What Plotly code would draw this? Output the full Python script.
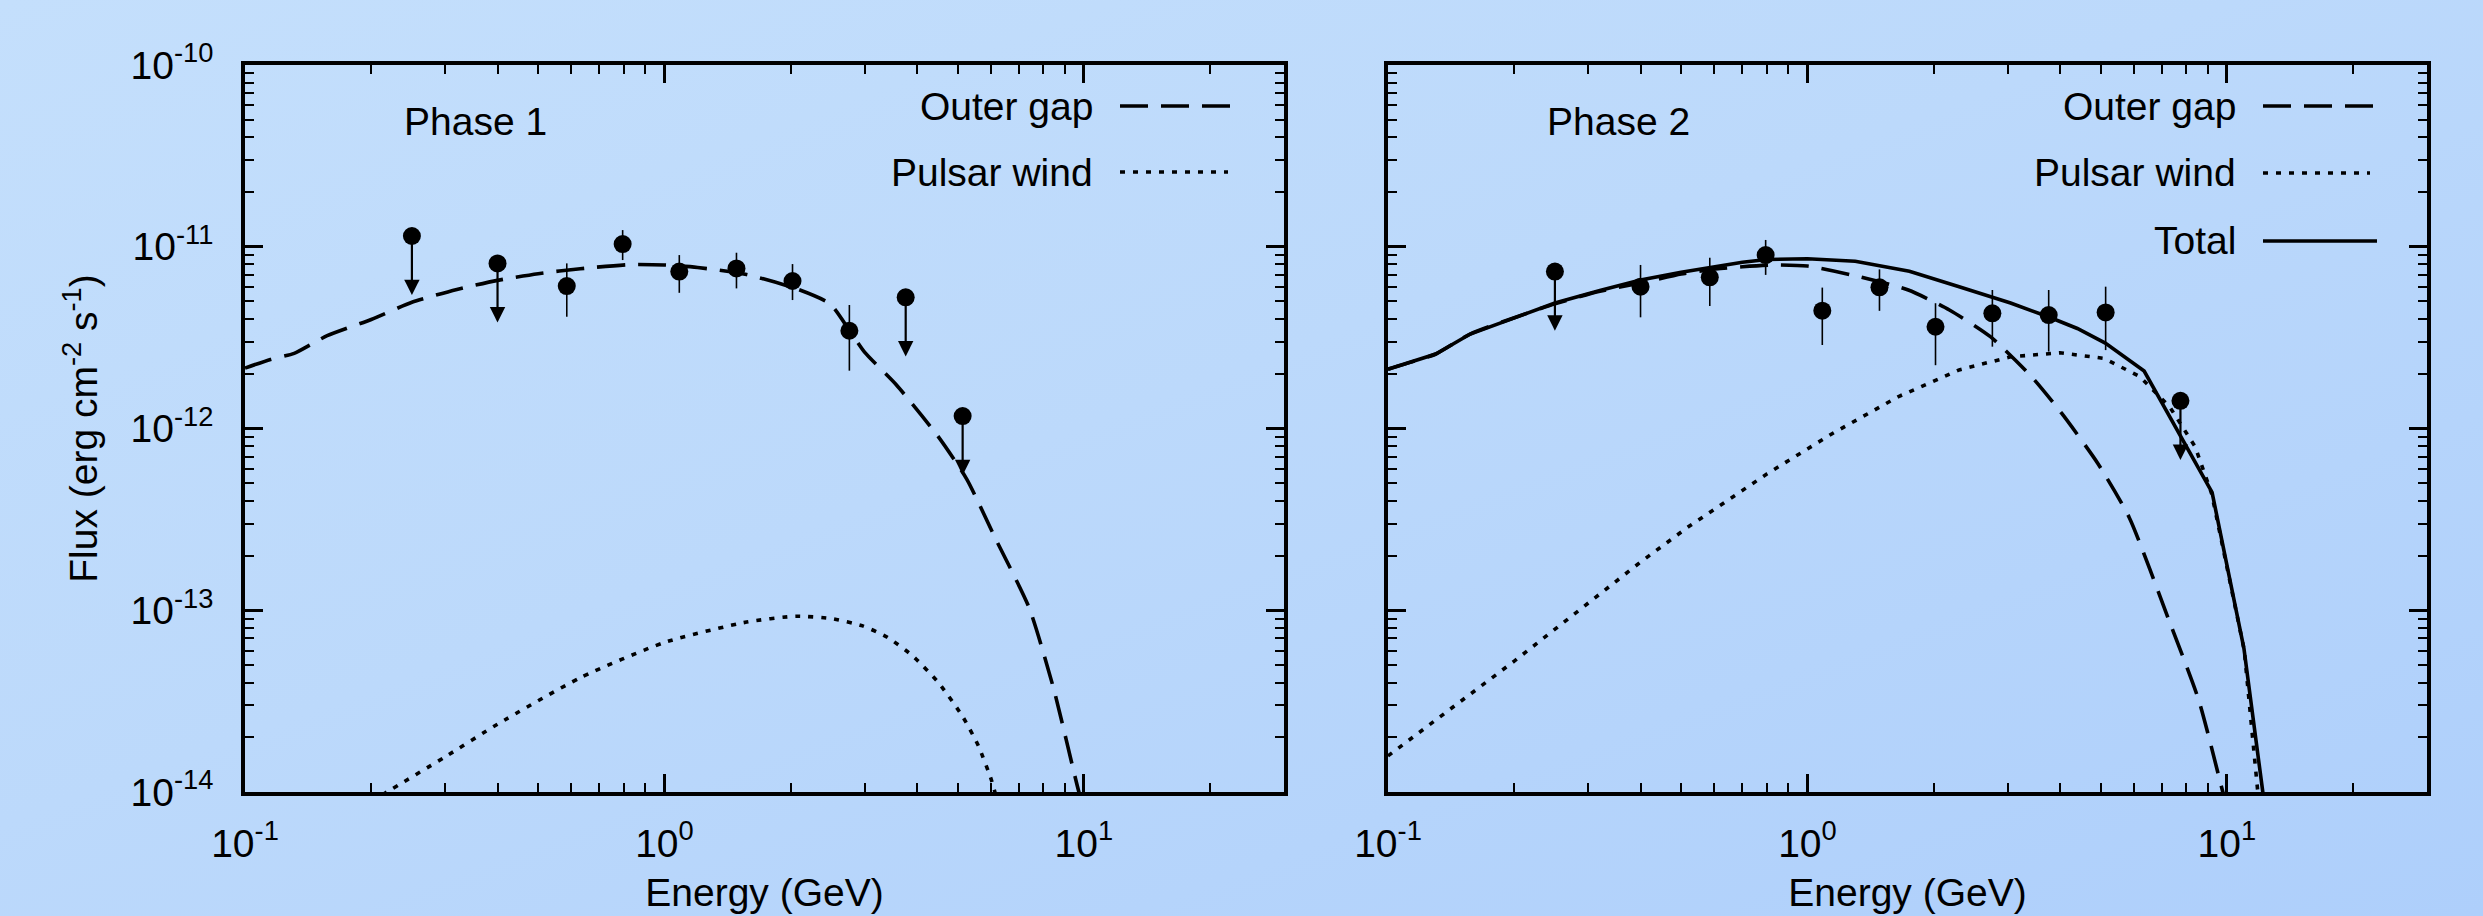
import base64
import math
import plotly.graph_objects as go

W, H = 2483, 916

# ---------------- data ----------------
# Phase 1 observed points (GeV, erg cm^-2 s^-1)
p1_energy = [0.25, 0.40, 0.585, 0.795, 1.085, 1.485, 2.02, 2.76, 3.76, 5.14]
p1_flux = [1.146e-11, 8.1e-12, 6.08e-12, 1.035e-11, 7.3e-12, 7.6e-12, 6.48e-12, 3.45e-12, 5.27e-12, 1.17e-12]
p1_flux_hi = [None, None, 8.1e-12, 1.235e-11, 9.0e-12, 9.27e-12, 8.03e-12, 4.78e-12, None, None]
p1_flux_lo = [None, None, 4.12e-12, 8.45e-12, 5.58e-12, 5.9e-12, 5.09e-12, 2.08e-12, None, None]
p1_upper = [True, True, False, False, False, False, False, False, True, True]

# Phase 2 observed points
p2_energy = [0.25, 0.40, 0.585, 0.795, 1.085, 1.485, 2.02, 2.76, 3.76, 5.14, 7.75]
p2_flux = [7.3e-12, 6.03e-12, 6.79e-12, 9.0e-12, 4.45e-12, 5.98e-12, 3.63e-12, 4.3e-12, 4.21e-12, 4.35e-12, 1.42e-12]
p2_flux_hi = [None, 7.94e-12, 8.7e-12, 1.09e-11, 5.96e-12, 7.51e-12, 4.89e-12, 5.78e-12, 5.78e-12, 6.03e-12, None]
p2_flux_lo = [None, 4.09e-12, 4.72e-12, 7.0e-12, 2.88e-12, 4.44e-12, 2.23e-12, 2.82e-12, 2.65e-12, 2.7e-12, None]
p2_upper = [True, False, False, False, False, False, False, False, False, False, True]

# Phase 1 models
p1_og_energy = [0.1, 0.115, 0.131, 0.157, 0.2, 0.25, 0.32, 0.4, 0.5, 0.63, 0.83, 1.0, 1.2, 1.57,
                2.07, 2.48, 2.76, 3.0, 3.57, 4.48, 5.26, 6.17, 7.4, 8.48, 9.73, 10.2]
p1_og_flux = [2.15e-12, 2.40e-12, 2.59e-12, 3.24e-12, 3.98e-12, 4.95e-12, 5.82e-12, 6.53e-12, 7.11e-12,
              7.57e-12, 7.98e-12, 7.94e-12, 7.69e-12, 7.03e-12, 5.86e-12, 4.86e-12, 3.47e-12, 2.63e-12,
              1.74e-12, 9.12e-13, 5.25e-13, 2.45e-13, 1.035e-13, 3.67e-14, 1.0e-14, 7.0e-15]
p1_pw_energy = [0.2, 0.218, 0.3, 0.4, 0.632, 1.0, 1.57, 2.06, 2.5, 2.97, 3.4, 3.91, 4.5, 5.14, 5.6, 6.03, 6.3]
p1_pw_flux = [8.85e-15, 1.0e-14, 1.56e-14, 2.36e-14, 4.27e-14, 6.65e-14, 8.61e-14, 9.27e-14, 9.0e-14,
              8.2e-14, 7.1e-14, 5.6e-14, 4.0e-14, 2.6e-14, 1.8e-14, 1.15e-14, 7.9e-15]

# Phase 2 models
p2_og_energy = [0.1, 0.115, 0.13, 0.157, 0.2, 0.25, 0.32, 0.4, 0.5, 0.58, 0.7, 0.83, 1.0, 1.3, 1.74,
                2.18, 2.73, 3.42, 4.04, 4.92, 5.85, 7.26, 8.58, 9.78, 10.2]
p2_og_flux = [2.12e-12, 2.34e-12, 2.57e-12, 3.31e-12, 4.07e-12, 4.85e-12, 5.69e-12, 6.31e-12, 7.08e-12,
              7.46e-12, 7.76e-12, 7.94e-12, 7.83e-12, 6.92e-12, 5.78e-12, 4.49e-12, 3.20e-12, 1.93e-12,
              1.21e-12, 6.44e-13, 3.24e-13, 8.93e-14, 3.17e-14, 1.0e-14, 7.0e-15]
p2_pw_energy = [0.1, 0.2, 0.4, 0.52, 0.8, 1.15, 1.65, 2.3, 3.05, 4.0, 5.1, 6.2, 7.3, 8.4, 9.2, 11.0, 11.85, 12.1]
p2_pw_flux = [1.58e-14, 5.25e-14, 1.84e-13, 2.88e-13, 5.62e-13, 9.42e-13, 1.50e-12, 2.10e-12, 2.48e-12,
              2.61e-12, 2.43e-12, 1.93e-12, 1.32e-12, 7.94e-13, 4.37e-13, 6.03e-14, 1.0e-14, 6.3e-15]
p2_tot_energy = [0.1, 0.115, 0.13, 0.157, 0.2, 0.25, 0.32, 0.4, 0.5, 0.585, 0.7, 0.8, 1.0, 1.3, 1.75,
                 2.3, 3.05, 3.75, 4.4, 5.13, 6.35, 9.22, 10.98, 12.18, 12.4]
p2_tot_flux = [2.12e-12, 2.34e-12, 2.57e-12, 3.31e-12, 4.07e-12, 4.9e-12, 5.75e-12, 6.56e-12, 7.24e-12,
               7.7e-12, 8.22e-12, 8.51e-12, 8.59e-12, 8.32e-12, 7.33e-12, 6.03e-12, 4.9e-12, 4.12e-12,
               3.55e-12, 2.95e-12, 2.07e-12, 4.45e-13, 6.17e-14, 1.0e-14, 6.0e-15]

x_range = [0.1, 30]
y_range = [1e-14, 1e-10]
x_major = [0.1, 1, 10]
x_major_text = ["10<sup>-1</sup>", "10<sup>0</sup>", "10<sup>1</sup>"]
y_major = [1e-14, 1e-13, 1e-12, 1e-11, 1e-10]
y_major_text = ["10<sup>-14</sup>", "10<sup>-13</sup>", "10<sup>-12</sup>", "10<sup>-11</sup>", "10<sup>-10</sup>"]
panel_labels = ["Phase 1", "Phase 2"]
legend_names = ["Outer gap", "Pulsar wind", "Total"]

# ---------------- style ----------------
FONT = "Liberation Sans, Arial, Helvetica, sans-serif"
FS = 39
DASH = "28px,13px"
DOT = "5px,8px"
UL_DEX = 0.325  # length of upper-limit arrows in decades

fig = go.Figure()


def minor_vals(lo_exp, hi_exp, top):
    vals = []
    for e in range(lo_exp, hi_exp + 1):
        for m in range(2, 10):
            v = m * 10 ** e
            if v < top * 1.0001:
                vals.append(v)
    return vals


x_minor = minor_vals(-1, 1, x_range[1])
y_minor = minor_vals(-14, -11, y_range[1])


def add_panel(xa, ya, energy, flux, hi, lo, upper, curves):
    for (ce, cf, dash, shape) in curves:
        fig.add_trace(go.Scatter(x=ce, y=cf, mode="lines", xaxis=xa, yaxis=ya,
                                 line=dict(color="black", width=3.6, dash=dash, shape=shape,
                                           smoothing=0.6 if shape == "spline" else None),
                                 showlegend=False, hoverinfo="skip"))
    plus = [(h - f) if h is not None else 0 for h, f in zip(hi, flux)]
    minus = [(f - l) if l is not None else 0 for l, f in zip(lo, flux)]
    fig.add_trace(go.Scatter(x=energy, y=flux, mode="markers", xaxis=xa, yaxis=ya,
                             marker=dict(color="black", size=18),
                             error_y=dict(type="data", symmetric=False, array=plus, arrayminus=minus,
                                          color="black", thickness=1.6, width=0),
                             showlegend=False))
    xr = "x" if xa == "x" else "x2"
    yr = "y" if ya == "y" else "y2"
    for e, f, u in zip(energy, flux, upper):
        if u:
            fig.add_annotation(x=math.log10(e), y=math.log10(f) - UL_DEX,
                               ax=math.log10(e), ay=math.log10(f),
                               xref=xr, yref=yr, axref=xr, ayref=yr, text="",
                               showarrow=True, arrowhead=2, arrowsize=1.4, arrowwidth=2.2,
                               arrowcolor="black")


add_panel("x", "y", p1_energy, p1_flux, p1_flux_hi, p1_flux_lo, p1_upper,
          [(p1_og_energy, p1_og_flux, DASH, "spline"), (p1_pw_energy, p1_pw_flux, DOT, "spline")])
add_panel("x2", "y2", p2_energy, p2_flux, p2_flux_hi, p2_flux_lo, p2_upper,
          [(p2_og_energy, p2_og_flux, DASH, "spline"), (p2_pw_energy, p2_pw_flux, DOT, "linear"),
           (p2_tot_energy, p2_tot_flux, "solid", "linear")])

x_dom1 = [245 / W, 1284 / W]
x_dom2 = [1388 / W, 2427 / W]
y_dom = [1 - 792 / H, 1 - 65 / H]

axis_common = dict(type="log", showline=True, linecolor="black", linewidth=3.5, mirror="allticks",
                   ticks="inside", ticklen=18, tickwidth=2.6, tickcolor="black", showgrid=False,
                   zeroline=False, tickfont=dict(family=FONT, size=FS, color="black"),
                   automargin=False)

xaxis_cfg = dict(axis_common, range=[math.log10(v) for v in x_range], tickmode="array",
                 tickvals=x_major, ticktext=x_major_text,
                 minor=dict(tickmode="array", tickvals=x_minor, ticks="inside", ticklen=9,
                            tickwidth=2.4, tickcolor="black", showgrid=False),
                 title=dict(text="Energy (GeV)", font=dict(family=FONT, size=FS, color="black"),
                            standoff=16),
                 ticklabelstandoff=14)
yaxis_cfg = dict(axis_common, range=[math.log10(v) for v in y_range], tickmode="array",
                 tickvals=y_major, ticktext=y_major_text,
                 minor=dict(tickmode="array", tickvals=y_minor, ticks="inside", ticklen=9,
                            tickwidth=2.4, tickcolor="black", showgrid=False),
                 ticklabelstandoff=20)

fig.update_layout(
    width=W, height=H, margin=dict(l=0, r=0, t=0, b=0),
    paper_bgcolor="#b9d7fa", plot_bgcolor="rgba(0,0,0,0)",
    font=dict(family=FONT, size=FS, color="black"),
    xaxis=dict(xaxis_cfg, domain=x_dom1, anchor="y"),
    xaxis2=dict(xaxis_cfg, domain=x_dom2, anchor="y2"),
    yaxis=dict(yaxis_cfg, domain=y_dom, anchor="x",
               title=dict(text="Flux (erg cm<sup>-2</sup> s<sup>-1</sup>)",
                          font=dict(family=FONT, size=FS, color="black"), standoff=22)),
    yaxis2=dict(yaxis_cfg, domain=y_dom, anchor="x2", showticklabels=False),
    showlegend=False,
)

# gradient background
svg = ('<svg xmlns="http://www.w3.org/2000/svg" width="%d" height="%d" viewBox="0 0 %d %d" '
       'preserveAspectRatio="none"><defs><linearGradient id="g" x1="0" y1="0" x2="1" y2="1">'
       '<stop offset="0" stop-color="#c4dffc"/><stop offset="0.45" stop-color="#bcd9fb"/>'
       '<stop offset="1" stop-color="#aecffb"/></linearGradient></defs>'
       '<rect width="%d" height="%d" fill="url(#g)"/></svg>') % (W, H, W, H, W, H)
fig.add_layout_image(dict(source="data:image/svg+xml;base64," + base64.b64encode(svg.encode()).decode(),
                          xref="paper", yref="paper", x=0, y=1, sizex=1, sizey=1,
                          xanchor="left", yanchor="top", sizing="stretch", layer="below"))

# panel labels
for lbl, xl in zip(panel_labels, [402, 1545]):
    fig.add_annotation(text=lbl, xref="paper", yref="paper", x=xl / W, y=1 - 121 / H,
                       xanchor="left", yanchor="middle", showarrow=False,
                       font=dict(family=FONT, size=FS, color="black"))

# manual keys (text left of the sample line)
keys = [
    # (text right px, line x0, line x1, y, dash, names index)
    (1095, 1120, 1234, 106, DASH, 0),
    (1095, 1120, 1228, 172, DOT, 1),
    (2238, 2263, 2377, 106, DASH, 0),
    (2238, 2263, 2370, 173, DOT, 1),
    (2238, 2263, 2377, 241, "solid", 2),
]
for tx, x0, x1, yk, dash, idx in keys:
    fig.add_annotation(text=legend_names[idx], xref="paper", yref="paper", x=tx / W, y=1 - yk / H,
                       xanchor="right", yanchor="middle", showarrow=False,
                       font=dict(family=FONT, size=FS, color="black"))
    fig.add_shape(type="line", xref="paper", yref="paper", x0=x0 / W, x1=x1 / W,
                  y0=1 - yk / H, y1=1 - yk / H,
                  line=dict(color="black", width=3.6, dash=dash))

fig.write_html("out.html", config={"displayModeBar": False},
               post_script="document.body.style.margin='0px';document.body.style.overflow='hidden';")
